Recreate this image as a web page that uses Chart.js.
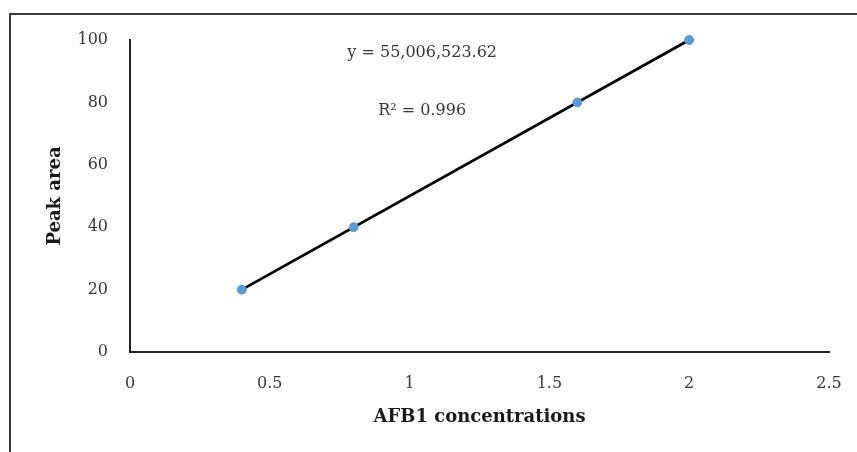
<!DOCTYPE html>
<html>
<head>
<meta charset="utf-8">
<script src="https://cdn.jsdelivr.net/npm/chart.js@4"></script>
<style>
html,body{margin:0;padding:0;background:#fff;overflow:hidden;}
#wrap{position:relative;width:857px;height:452px;}
#frame{position:absolute;left:9px;top:13px;width:900px;height:500px;border:2px solid #3a3a3a;box-sizing:border-box;}
canvas{position:absolute;left:0;top:0;}
</style>
</head>
<body>
<div id="wrap"><div id="frame"></div><canvas id="c" width="857" height="452"></canvas></div>
<script>
const concentrations = [0.4, 0.8, 1.6, 2.0];
const peakAreas = [20, 40, 80, 100];
const fitX = [0.4, 2.0];
const fitY = [20, 100];
const xTicks = [0, 0.5, 1, 1.5, 2, 2.5];
const yTicks = [0, 20, 40, 60, 80, 100];
const equationText = 'y = 55,006,523.62';
const r2Text = 'R² = 0.996';
const equationPos = [1.045, 95.8];
const r2Pos = [1.045, 77.2];

const serif = '"DejaVu Serif", "Liberation Serif", serif';

const annotate = {
  id: 'annotate',
  afterDatasetsDraw(chart) {
    const {ctx, scales: {x, y}} = chart;
    ctx.save();
    ctx.font = '16px ' + serif;
    ctx.fillStyle = '#383838';
    ctx.textAlign = 'center';
    ctx.textBaseline = 'middle';
    ctx.fillText(equationText, x.getPixelForValue(equationPos[0]), y.getPixelForValue(equationPos[1]));
    ctx.fillText(r2Text, x.getPixelForValue(r2Pos[0]), y.getPixelForValue(r2Pos[1]));
    ctx.restore();
  }
};

new Chart(document.getElementById('c'), {
  type: 'scatter',
  data: {
    datasets: [
      {
        label: 'Data',
        data: concentrations.map((v, i) => ({x: v, y: peakAreas[i]})),
        backgroundColor: '#5B9BD5',
        borderColor: '#5B9BD5',
        pointRadius: 4.5,
        pointHoverRadius: 4.5,
        showLine: false,
        clip: false
      },
      {
        label: 'Fit',
        data: fitX.map((v, i) => ({x: v, y: fitY[i]})),
        showLine: true,
        borderColor: '#000',
        borderWidth: 2.8,
        pointRadius: 0,
        fill: false,
        clip: false
      }
    ]
  },
  options: {
    responsive: false,
    animation: false,
    layout: {padding: {left: 0, top: 40, right: 28, bottom: 0}},
    plugins: {legend: {display: false}, tooltip: {enabled: false}},
    scales: {
      x: {
        type: 'linear',
        min: 0, max: 2.5,
        afterBuildTicks: s => { s.ticks = xTicks.map(v => ({value: v})); },
        afterFit: s => { s.height = 100; },
        grid: {display: false},
        border: {display: true, color: '#222', width: 2},
        ticks: {color: '#383838', font: {family: serif, size: 16}, padding: 14,
                callback: v => String(v)},
        title: {display: true, text: 'AFB1 concentrations', color: '#1a1a1a',
                font: {family: serif, size: 18, weight: 'bold'}, padding: {top: 0, bottom: 24}}
      },
      y: {
        type: 'linear',
        min: 0, max: 100,
        afterBuildTicks: s => { s.ticks = yTicks.map(v => ({value: v})); },
        afterFit: s => { s.width = 130; },
        grid: {display: false},
        border: {display: true, color: '#222', width: 2},
        ticks: {color: '#383838', font: {family: serif, size: 16}, padding: 14},
        title: {display: true, text: 'Peak area', color: '#1a1a1a',
                font: {family: serif, size: 18, weight: 'bold'}, padding: {top: 45, bottom: 0}}
      }
    }
  },
  plugins: [annotate]
});
</script>
</body>
</html>
